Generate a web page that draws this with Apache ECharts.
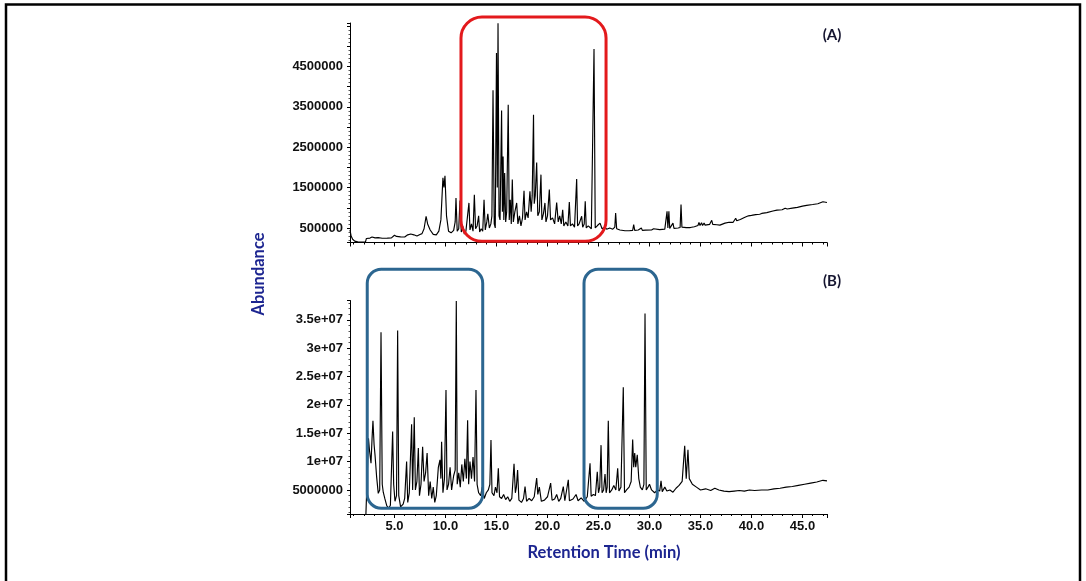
<!DOCTYPE html>
<html>
<head>
<meta charset="utf-8">
<script src="https://cdn.jsdelivr.net/npm/echarts@6/dist/echarts.min.js"></script>
<style>
html,body{margin:0;padding:0;background:#fff;}
#chart{width:1086px;height:581px;}
</style>
</head>
<body>
<div id="chart"></div>
<script>
// ---------- data ----------
const timeRange = [0.64, 47.4];          // retention time axis extent (min)
const xTickLabels = [5, 10, 15, 20, 25, 30, 35, 40, 45];
const yRangeA = [140000, 5574000];
const yRangeB = [760000, 38400000];
const yLabelsA = [500000, 1500000, 2500000, 3500000, 4500000];
const yLabelsB = [5000000, 10000000, 15000000, 20000000, 25000000, 30000000, 35000000];
const panelLabels = ['(A)', '(B)'];

// chromatogram A : [time(min), abundance]
const traceA = [
[0.64,450000],[0.75,300000],[0.9,220000],[1.1,175000],[1.4,155000],[1.8,148000],[2.15,150000],
[2.25,240000],[2.4,260000],[2.6,250000],[2.8,275000],[3.1,255000],[3.4,262000],[3.8,245000],
[4.3,250000],[4.7,255000],[5.0,320000],[5.2,290000],[5.6,280000],[6.0,275000],[6.3,330000],
[6.6,350000],[6.9,330000],[7.2,300000],[7.5,340000],[7.7,360000],[7.9,480000],[8.1,790000],
[8.25,600000],[8.35,640000],[8.5,450000],[8.8,340000],[9.1,330000],[9.35,420000],[9.55,700000],
[9.75,1740000],[9.85,1500000],[9.95,1790000],[10.1,800000],[10.3,420000],[10.55,380000],
[10.8,440000],[10.95,650000],[11.03,1240000],[11.15,420000],[11.3,480000],[11.42,1180000],
[11.55,400000],[11.7,540000],[11.85,350000],[12.0,420000],[12.15,380000],[12.3,1120000],
[12.4,450000],[12.55,600000],[12.7,420000],[12.83,1320000],[12.95,480000],[13.1,550000],
[13.25,800000],[13.35,400000],[13.5,480000],[13.65,420000],[13.78,1200000],[13.9,450000],
[14.05,650000],[14.15,850000],[14.3,500000],[14.45,600000],[14.55,800000],[14.66,3910000],
[14.78,600000],[14.88,500000],[15.0,4830000],[15.08,1500000],[15.15,5570000],[15.25,800000],
[15.35,700000],[15.5,3410000],[15.58,900000],[15.65,2270000],[15.72,700000],[15.8,1860000],
[15.9,650000],[16.0,900000],[16.15,3550000],[16.25,700000],[16.35,1200000],[16.45,600000],
[16.55,1700000],[16.65,650000],[16.8,900000],[16.98,1120000],[17.1,600000],[17.25,800000],
[17.4,550000],[17.55,750000],[17.7,1420000],[17.8,700000],[17.95,900000],[18.1,750000],
[18.28,1410000],[18.4,900000],[18.5,1300000],[18.57,2360000],[18.63,3300000],[18.7,1100000],
[18.8,1300000],[18.94,2120000],[19.05,800000],[19.2,900000],[19.36,1820000],[19.45,700000],
[19.6,850000],[19.75,1120000],[19.85,650000],[20.0,800000],[20.18,1450000],[20.3,700000],
[20.5,750000],[20.7,600000],[20.9,1130000],[21.05,650000],[21.2,800000],[21.35,600000],
[21.49,950000],[21.6,550000],[21.8,650000],[22.0,550000],[22.14,1140000],[22.25,550000],
[22.45,600000],[22.65,520000],[22.86,1710000],[22.95,550000],[23.1,600000],[23.35,790000],
[23.45,520000],[23.6,600000],[23.7,1160000],[23.8,500000],[24.0,550000],[24.3,480000],
[24.45,520000],[24.56,4930000],[24.68,500000],[24.9,560000],[25.15,620000],[25.35,480000],
[25.6,520000],[25.8,470000],[26.1,500000],[26.4,470000],[26.6,520000],[26.68,870000],
[26.78,480000],[27.1,450000],[27.6,430000],[28.0,430000],[28.35,440000],[28.45,580000],
[28.55,440000],[28.9,450000],[29.2,500000],[29.3,440000],[29.6,445000],[30.2,450000],
[30.4,480000],[30.5,450000],[31.0,460000],[31.5,470000],[31.65,480000],[31.72,910000],
[31.8,500000],[31.9,910000],[31.98,490000],[32.3,620000],[32.4,490000],[32.8,500000],
[33.0,510000],[33.09,1080000],[33.18,520000],[33.6,510000],[34.0,510000],[34.4,530000],
[34.75,560000],[34.85,640000],[34.95,560000],[35.1,630000],[35.2,560000],[35.35,620000],
[35.45,570000],[35.9,590000],[36.1,690000],[36.2,590000],[36.6,580000],[36.9,570000],
[37.4,620000],[37.8,640000],[38.2,640000],[38.45,740000],[38.55,680000],[38.9,710000],
[39.3,760000],[39.7,800000],[39.85,840000],[40.0,810000],[40.4,830000],[40.8,840000],
[41.0,860000],[41.5,880000],[42.1,920000],[42.5,940000],[43.0,950000],[43.3,990000],
[43.5,970000],[44.0,990000],[44.5,1010000],[45.0,1040000],[45.4,1060000],[46.0,1080000],
[46.5,1100000],[47.0,1150000],[47.4,1130000]
];

// chromatogram B : [time(min), abundance]
const traceB = [
[2.2,760000],[2.45,14100000],[2.55,12000000],[2.7,9700000],[2.8,14000000],[2.89,17200000],
[3.0,13000000],[3.1,11000000],[3.25,7300000],[3.41,4400000],[3.55,5000000],[3.68,32800000],
[3.8,6000000],[3.9,4600000],[4.05,3500000],[4.25,2200000],[4.45,1800000],[4.6,2300000],
[4.82,15300000],[4.92,6000000],[5.05,3000000],[5.2,4000000],[5.31,33100000],[5.42,4000000],
[5.6,2000000],[5.85,2500000],[6.0,3500000],[6.19,10000000],[6.3,2800000],[6.45,4500000],
[6.68,16600000],[6.78,5000000],[6.94,17800000],[7.05,5000000],[7.2,6500000],[7.34,12400000],
[7.45,4000000],[7.6,6000000],[7.76,12600000],[7.9,6500000],[8.05,8000000],[8.2,11500000],
[8.35,4000000],[8.5,6500000],[8.65,3500000],[8.8,5500000],[8.95,2800000],[9.1,4000000],
[9.3,9000000],[9.46,10300000],[9.55,7000000],[9.62,13500000],[9.75,4500000],[9.9,7000000],
[10.05,22600000],[10.15,5000000],[10.3,6000000],[10.45,9000000],[10.6,5000000],[10.8,7500000],
[10.95,8500000],[11.06,38300000],[11.15,6000000],[11.3,8000000],[11.45,5500000],[11.6,9500000],
[11.75,6500000],[11.9,10500000],[12.05,7000000],[12.17,17300000],[12.27,6000000],[12.4,10000000],
[12.55,7000000],[12.7,10800000],[12.85,6500000],[12.99,22600000],[13.1,6000000],[13.25,4500000],
[13.45,4000000],[13.6,5500000],[13.8,3500000],[14.0,4500000],[14.2,5000000],[14.35,6000000],
[14.46,13800000],[14.56,4500000],[14.75,4000000],[14.9,5500000],[15.05,4500000],[15.18,8800000],
[15.3,3800000],[15.5,3500000],[15.7,4200000],[15.9,3300000],[16.1,3800000],[16.3,3000000],
[16.5,3500000],[16.72,9600000],[16.85,4500000],[16.95,5500000],[17.07,8500000],[17.2,3200000],
[17.45,2800000],[17.65,3500000],[17.8,5600000],[17.95,3000000],[18.2,3500000],[18.45,3100000],
[18.7,3800000],[18.94,7100000],[19.05,4200000],[19.2,5500000],[19.4,3000000],[19.7,3200000],
[20.0,3800000],[20.31,6200000],[20.45,3200000],[20.7,3400000],[20.9,4200000],[21.1,3000000],
[21.3,3500000],[21.55,5600000],[21.7,3100000],[22.04,6800000],[22.15,3100000],[22.5,3400000],
[22.8,4200000],[23.0,3100000],[23.3,3600000],[23.6,3000000],[23.9,3800000],[24.05,3500000],
[24.17,9700000],[24.28,3900000],[24.5,4200000],[24.7,4000000],[24.88,8200000],[25.0,4500000],
[25.12,5500000],[25.25,12900000],[25.35,4500000],[25.5,5000000],[25.64,7800000],[25.75,4500000],
[25.85,5500000],[25.96,17200000],[26.08,4500000],[26.3,5000000],[26.5,5800000],[26.7,5000000],
[26.88,8800000],[27.0,4800000],[27.2,5500000],[27.43,23100000],[27.55,4500000],[27.75,5000000],
[28.0,5500000],[28.2,6500000],[28.35,13900000],[28.45,9000000],[28.55,11500000],[28.65,9000000],
[28.8,11200000],[28.95,7000000],[29.1,5500000],[29.3,5000000],[29.45,6000000],[29.56,36100000],
[29.68,5000000],[29.85,5500000],[30.0,6000000],[30.2,5000000],[30.5,4500000],[30.8,5000000],
[31.0,4800000],[31.13,6600000],[31.25,4700000],[31.5,5500000],[31.7,4800000],[32.0,5000000],
[32.3,4600000],[32.6,5300000],[32.9,5800000],[33.2,6500000],[33.45,12800000],[33.6,7000000],
[33.77,12100000],[33.9,7000000],[34.2,6000000],[34.6,5500000],[35.0,5000000],[35.5,5200000],
[36.0,4900000],[36.4,5300000],[36.8,5000000],[37.3,4800000],[37.8,4700000],[38.3,4800000],
[38.8,4900000],[39.3,4800000],[39.8,5000000],[40.3,4900000],[41.0,5000000],[41.6,5000000],
[42.2,5200000],[42.8,5300000],[43.4,5500000],[44.0,5600000],[44.6,5800000],[45.2,6000000],
[45.8,6200000],[46.4,6400000],[47.0,6700000],[47.4,6600000]
];

// highlighted regions: [tStart, tEnd, vLow, vHigh]
const boxesA = [[11.52, 25.74, 168000, 5720000]];
const boxesB = [[2.33, 13.65, 1770000, 43900000], [23.58, 30.76, 1770000, 43900000]];

// ---------- chart ----------
const chart = echarts.init(document.getElementById('chart'), null, {renderer: 'canvas'});
const tickFont = {fontFamily: '"Liberation Sans", Arial, sans-serif', fontWeight: 'bold', fontSize: 13, color: '#111'};
const titleColor = '#1c2590';

function xAxisCfg(grid, showLabels) {
  return {
    type: 'value', gridIndex: grid, min: timeRange[0], max: timeRange[1],
    minInterval: 5, maxInterval: 5,
    axisLine: {show: true, onZero: false, lineStyle: {color: '#000', width: 1}},
    axisTick: {show: true, length: 4, lineStyle: {color: '#000'}},
    minorTick: {show: true, splitNumber: 5, length: 2, lineStyle: {color: '#000'}},
    splitLine: {show: false},
    axisLabel: Object.assign({
      show: showLabels, margin: 6, showMinLabel: false, showMaxLabel: false,
      formatter: v => xTickLabels.indexOf(Math.round(v * 1000) / 1000) >= 0 ? v.toFixed(1) : ''
    }, tickFont)
  };
}

function yAxisCfg(grid, range, step, labels, fmt) {
  return {
    type: 'value', gridIndex: grid, min: range[0], max: range[1],
    minInterval: step, maxInterval: step,
    axisLine: {show: true, onZero: false, lineStyle: {color: '#000', width: 1}},
    axisTick: {show: true, length: 3, lineStyle: {color: '#000'}},
    minorTick: {show: true, splitNumber: 5, length: 1.5, lineStyle: {color: '#555'}},
    splitLine: {show: false},
    axisLabel: Object.assign({
      margin: 7, showMinLabel: false, showMaxLabel: false,
      formatter: v => labels.indexOf(v) >= 0 ? fmt(v) : ''
    }, tickFont)
  };
}

const fmtB = v => v < 1e7 ? String(v) : (v / 1e7) + 'e+07';

chart.setOption({
  animation: false,
  backgroundColor: '#fff',
  grid: [
    {left: 350, right: 259, top: 23, height: 219.5},
    {left: 350, right: 259, top: 300.5, height: 213.5}
  ],
  xAxis: [xAxisCfg(0, false), xAxisCfg(1, true)],
  yAxis: [
    yAxisCfg(0, yRangeA, 500000, yLabelsA, v => String(v)),
    yAxisCfg(1, yRangeB, 5000000, yLabelsB, fmtB)
  ],
  series: [
    {type: 'line', xAxisIndex: 0, yAxisIndex: 0, data: traceA, showSymbol: false, symbol: 'none',
     lineStyle: {color: '#000', width: 1.15}, clip: true},
    {type: 'line', xAxisIndex: 1, yAxisIndex: 1, data: traceB, showSymbol: false, symbol: 'none',
     lineStyle: {color: '#000', width: 1.15}, clip: true}
  ]
});

function boxGraphics(grid, boxes, color, radius) {
  return boxes.map(b => {
    const p0 = chart.convertToPixel({gridIndex: grid}, [b[0], b[3]]);
    const p1 = chart.convertToPixel({gridIndex: grid}, [b[1], b[2]]);
    return {
      type: 'rect', z: 100,
      shape: {x: p0[0], y: p0[1], width: p1[0] - p0[0], height: p1[1] - p0[1], r: radius},
      style: {fill: 'none', stroke: color, lineWidth: 3}
    };
  });
}

const labelFont = '"Lato", "Open Sans", sans-serif';
chart.setOption({
  graphic: [
    {type: 'rect', z: 90, shape: {x: 6, y: 4.5, width: 1074, height: 600},
     style: {fill: 'none', stroke: '#000', lineWidth: 2.5}},
    ...boxGraphics(0, boxesA, '#e3191c', 21),
    ...boxGraphics(1, boxesB, '#2c6690', 14),
    {type: 'text', z: 100, x: 832, y: 35,
     style: {text: panelLabels[0], font: 'bold 15px ' + labelFont, fill: '#151530', align: 'center', verticalAlign: 'middle'}},
    {type: 'text', z: 100, x: 832, y: 281,
     style: {text: panelLabels[1], font: 'bold 15px ' + labelFont, fill: '#151530', align: 'center', verticalAlign: 'middle'}},
    {type: 'text', z: 100, x: 259, y: 274, rotation: Math.PI / 2,
     style: {text: 'Abundance', font: 'bold 16.5px ' + labelFont, fill: titleColor, align: 'center', verticalAlign: 'middle'}},
    {type: 'text', z: 100, x: 604, y: 553,
     style: {text: 'Retention Time (min)', font: 'bold 16.5px ' + labelFont, fill: titleColor, align: 'center', verticalAlign: 'middle'}}
  ]
});
</script>
</body>
</html>
